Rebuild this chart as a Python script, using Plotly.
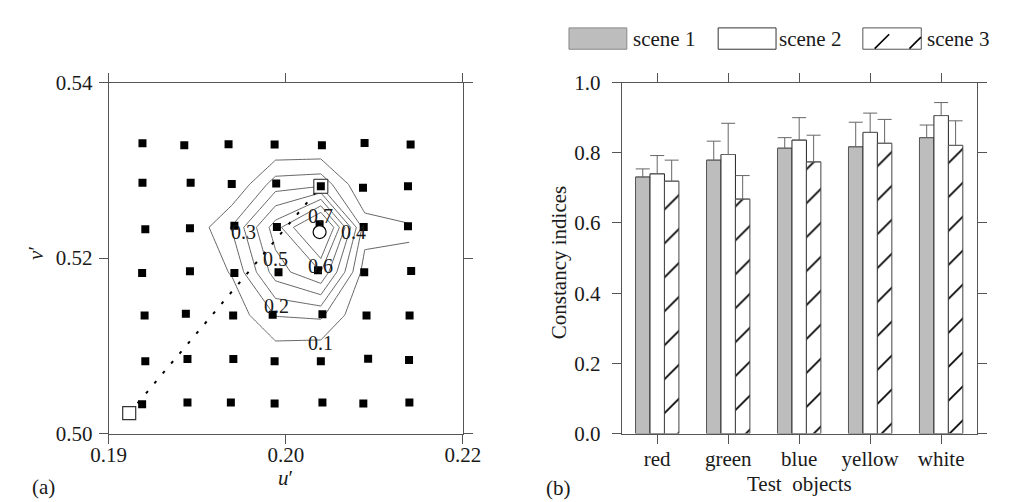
import plotly.graph_objects as go

W, H = 1012, 502
FONT = "Liberation Serif"
FS = 21

# ---------------- Panel (a) data ----------------
grid_u = [0.19191, 0.19427, 0.19677, 0.19937, 0.20204, 0.20445, 0.20705,
          0.19191, 0.19463, 0.19695, 0.19946, 0.20198, 0.20436, 0.20690,
          0.19207, 0.19459, 0.19710, 0.19950, 0.20191, 0.20440, 0.20690,
          0.19189, 0.19459, 0.19710, 0.19959, 0.20182, 0.20443, 0.20708,
          0.19203, 0.19436, 0.19703, 0.19926, 0.20207, 0.20456, 0.20699,
          0.19207, 0.19445, 0.19704, 0.19937, 0.20198, 0.20465, 0.20696,
          0.19189, 0.19445, 0.19690, 0.19937, 0.20207, 0.20438, 0.20698]
grid_v = [0.53307, 0.53286, 0.53296, 0.53293, 0.53286, 0.53311, 0.53293,
          0.52858, 0.52858, 0.52843, 0.52850, 0.52818, 0.52800, 0.52818,
          0.52328, 0.52339, 0.52368, 0.52354, 0.52386, 0.52354, 0.52361,
          0.51831, 0.51849, 0.51831, 0.51839, 0.51860, 0.51839, 0.51853,
          0.51345, 0.51364, 0.51345, 0.51353, 0.51360, 0.51345, 0.51345,
          0.50823, 0.50849, 0.50849, 0.50823, 0.50823, 0.50852, 0.50838,
          0.50334, 0.50355, 0.50355, 0.50341, 0.50355, 0.50341, 0.50355]

adapt_u, adapt_v = [0.19116], [0.50232]     # open square
target_u, target_v = [0.20198], [0.52818]   # framed square
match_u, match_v = [0.20191], [0.52296]     # open circle

cont_u = [0.19197, 0.19448, 0.19698, 0.19942, 0.20198, 0.20446, 0.20698]
cont_v = [0.5035, 0.5083, 0.5135, 0.5184, 0.5235, 0.5284, 0.5330]
cont_z = [
    [0, 0, 0,    0,     0,    0,    0],
    [0, 0, 0,    0.02,  0,    0,    0],
    [0, 0, 0.03, 0.205, 0.22, 0,    0],
    [0, 0, 0.11, 0.45,  0.60, 0.05, 0.08],
    [0, 0, 0.21, 0.55,  0.93, 0.15, 0.11],
    [0, 0, 0,    0.25,  0.27, 0,    0],
    [0, 0, 0,    0,     0,    0,    0],
]
contour_labels = ["0.1", "0.2", "0.3", "0.4", "0.5", "0.6", "0.7"]
contour_label_u = [0.20194, 0.19946, 0.19759, 0.20381, 0.19940, 0.20194, 0.20194]
contour_label_v = [0.51034, 0.51450, 0.52292, 0.52292, 0.51987, 0.51915, 0.52484]

a_xtickvals = [0.19, 0.20, 0.21]
a_xticktext = ["0.19", "0.20", "0.22"]
a_ytickvals = [0.50, 0.52, 0.54]

# ---------------- Panel (b) data ----------------
objects = ["red", "green", "blue", "yellow", "white"]
scene1 = [0.731, 0.779, 0.813, 0.817, 0.843]
scene1_err = [0.023, 0.054, 0.030, 0.070, 0.036]
scene2 = [0.740, 0.795, 0.836, 0.858, 0.906]
scene2_err = [0.052, 0.089, 0.064, 0.055, 0.037]
scene3 = [0.719, 0.668, 0.774, 0.827, 0.821]
scene3_err = [0.060, 0.067, 0.076, 0.068, 0.070]
scene_names = ["scene 1", "scene 2", "scene 3"]


def px(x):
    return x / W


def py(y):
    return 1 - y / H


fig = go.Figure()

# contour lines (polygonal, no smoothing)
fig.add_trace(go.Contour(
    x=cont_u, y=cont_v, z=cont_z, xaxis="x", yaxis="y",
    contours=dict(start=0.1, end=0.705, size=0.1, coloring="none", showlabels=False),
    line=dict(color="#555555", width=0.9, smoothing=0),
    showscale=False, hoverinfo="skip", showlegend=False))

# dotted connecting line
fig.add_trace(go.Scatter(
    x=adapt_u + target_u, y=adapt_v + target_v, mode="lines",
    line=dict(color="black", width=2, dash="3px,10px"),
    xaxis="x", yaxis="y", showlegend=False, hoverinfo="skip"))

# framed square (frame)
fig.add_trace(go.Scatter(
    x=target_u, y=target_v, mode="markers",
    marker=dict(symbol="square", size=14, color="white", line=dict(color="#222", width=1)),
    xaxis="x", yaxis="y", showlegend=False, hoverinfo="skip"))

# grid of black squares
fig.add_trace(go.Scatter(
    x=grid_u, y=grid_v, mode="markers",
    marker=dict(symbol="square", size=8, color="black", line=dict(width=0)),
    xaxis="x", yaxis="y", showlegend=False, hoverinfo="skip"))

# open circle
fig.add_trace(go.Scatter(
    x=match_u, y=match_v, mode="markers",
    marker=dict(symbol="circle", size=13, color="white", line=dict(color="black", width=1.2)),
    xaxis="x", yaxis="y", showlegend=False, hoverinfo="skip"))

# open square
fig.add_trace(go.Scatter(
    x=adapt_u, y=adapt_v, mode="markers",
    marker=dict(symbol="square", size=13, color="white", line=dict(color="#333", width=1.2)),
    xaxis="x", yaxis="y", showlegend=False, hoverinfo="skip"))

# bars
err_style = dict(type="data", symmetric=False, color="#666666", thickness=1, width=7)
fig.add_trace(go.Bar(
    x=objects, y=scene1, name=scene_names[0], xaxis="x2", yaxis="y2",
    marker=dict(color="#bdbdbd", line=dict(color="#555555", width=1)),
    error_y=dict(array=scene1_err, arrayminus=[0] * len(objects), **err_style),
    showlegend=False))
fig.add_trace(go.Bar(
    x=objects, y=scene2, name=scene_names[1], xaxis="x2", yaxis="y2",
    marker=dict(color="white", line=dict(color="#222222", width=1)),
    error_y=dict(array=scene2_err, arrayminus=[0] * len(objects), **err_style),
    showlegend=False))
fig.add_trace(go.Bar(
    x=objects, y=scene3, name=scene_names[2], xaxis="x2", yaxis="y2",
    marker=dict(color="white", line=dict(color="#444444", width=1),
                pattern=dict(shape="/", size=24, solidity=0.07, fgcolor="black",
                             fgopacity=1, bgcolor="white")),
    error_y=dict(array=scene3_err, arrayminus=[0] * len(objects), **err_style),
    showlegend=False))

axis_common = dict(showline=True, linecolor="#555555", linewidth=1, mirror="ticks",
                   ticks="outside", ticklen=9, tickcolor="#555555", tickwidth=1,
                   showgrid=False, zeroline=False,
                   tickfont=dict(family=FONT, size=FS, color="#1a1a1a"))

ydom = [py(434.3), py(65.7)]

annotations = []
for t, u, v in zip(contour_labels, contour_label_u, contour_label_v):
    annotations.append(dict(x=u, y=v, xref="x", yref="y", text=t, showarrow=False,
                            font=dict(family=FONT, size=20, color="#1a1a1a")))


def paper_text(text, x, y, angle=0, xanchor="center"):
    return dict(x=px(x), y=py(y), xref="paper", yref="paper", text=text, showarrow=False,
                textangle=angle, xanchor=xanchor, yanchor="middle",
                font=dict(family=FONT, size=FS, color="#1a1a1a"))


annotations += [
    paper_text("<i>v</i>′", 11, 245, angle=-90),
    paper_text("<i>u</i>′", 269, 481),
    paper_text("Constancy indices", 552, 255, angle=-90),
    paper_text("Test  objects", 802, 487),
    paper_text("(a)", 18, 490),
    paper_text("(b)", 552, 491),
    paper_text(scene_names[0], 627, 19.5, xanchor="left"),
    paper_text(scene_names[1], 779, 19.5, xanchor="left"),
    paper_text(scene_names[2], 932, 19.5, xanchor="left"),
]

shapes = [
    dict(type="rect", xref="paper", yref="paper", x0=px(563), x1=px(623), y0=py(30.7), y1=py(8.3),
         fillcolor="#bdbdbd", line=dict(color="#888888", width=1)),
    dict(type="rect", xref="paper", yref="paper", x0=px(717.7), x1=px(777.7), y0=py(30.7), y1=py(8.3),
         fillcolor="white", line=dict(color="#333333", width=1)),
    dict(type="rect", xref="paper", yref="paper", x0=px(867.7), x1=px(928.3), y0=py(30.7), y1=py(8.3),
         fillcolor="white", line=dict(color="#555555", width=1)),
    dict(type="line", xref="paper", yref="paper", x0=px(880), x1=px(895), y0=py(30), y1=py(15),
         line=dict(color="black", width=1.6)),
    dict(type="line", xref="paper", yref="paper", x0=px(916), x1=px(928), y0=py(30), y1=py(18),
         line=dict(color="black", width=1.6)),
]

fig.update_layout(
    width=W, height=H, margin=dict(l=0, r=0, t=0, b=0),
    paper_bgcolor="white", plot_bgcolor="white",
    font=dict(family=FONT, size=FS, color="#1a1a1a"),
    barmode="group", bargap=0.389, bargroupgap=0.0,
    showlegend=False,
    xaxis=dict(domain=[px(85.7), px(453)], range=[0.19, 0.21],
               tickvals=a_xtickvals, ticktext=a_xticktext, anchor="y",
               ticklabelstandoff=-7, **axis_common),
    yaxis=dict(domain=ydom, range=[0.50, 0.54], tickvals=a_ytickvals,
               tickformat=".2f", anchor="x", ticklabelstandoff=2, **axis_common),
    xaxis2=dict(domain=[px(617.7), px(985.7)], range=[-0.5, 4.5], type="category",
                anchor="y2", ticklabelstandoff=-3, **axis_common),
    yaxis2=dict(domain=ydom, range=[0, 1], dtick=0.2, tickformat=".1f", anchor="x2",
                ticklabelstandoff=7, **axis_common),
    annotations=annotations,
    shapes=shapes,
)

fig.write_html("out.html")
